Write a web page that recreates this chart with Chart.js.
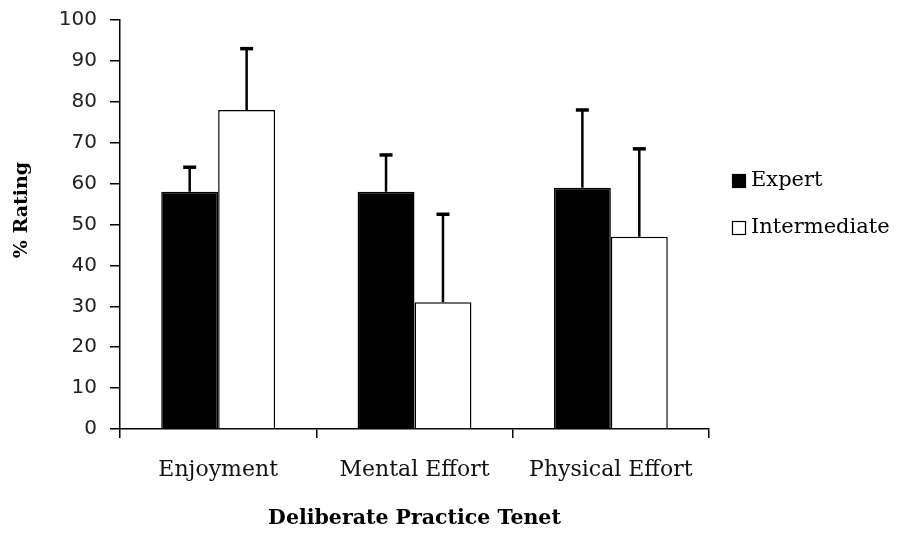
<!DOCTYPE html>
<html>
<head>
<meta charset="utf-8">
<script src="https://cdn.jsdelivr.net/npm/chart.js@4"></script>
<style>
  html, body { margin: 0; padding: 0; background: #ffffff; }
  #wrap { width: 898px; height: 538px; }
</style>
</head>
<body>
<div id="wrap"><canvas id="chart" width="898" height="538"></canvas></div>
<script>
// Deliberate practice ratings by tenet, with one-sided (upper) error bars
const categories = ['Enjoyment', 'Mental Effort', 'Physical Effort'];
const expertValues = [58, 58, 59];
const expertErrors = [6, 9, 19];
const intermediateValues = [78, 31, 47];
const intermediateErrors = [15, 21.5, 21.5];
const yTicks = [0, 10, 20, 30, 40, 50, 60, 70, 80, 90, 100];

const serif = '"DejaVu Serif", "Liberation Serif", serif';

// Upper error bars drawn from each bar's top through the y scale
const errorBars = {
  id: 'errorBars',
  afterDatasetsDraw(chart) {
    const ctx = chart.ctx;
    const y = chart.scales.y;
    chart.data.datasets.forEach((ds, di) => {
      const meta = chart.getDatasetMeta(di);
      meta.data.forEach((bar, i) => {
        const top = y.getPixelForValue(ds.data[i] + ds.errors[i]);
        ctx.save();
        ctx.strokeStyle = '#000';
        ctx.lineWidth = 2.5;
        ctx.beginPath();
        ctx.moveTo(bar.x, bar.y);
        ctx.lineTo(bar.x, top);
        ctx.stroke();
        ctx.lineWidth = 3.5;
        ctx.beginPath();
        ctx.moveTo(bar.x - 6.5, top);
        ctx.lineTo(bar.x + 6.5, top);
        ctx.stroke();
        ctx.restore();
      });
    });
  }
};

// Side legend and rotated y-axis title
const decorations = {
  id: 'decorations',
  afterDraw(chart) {
    const ctx = chart.ctx;
    ctx.save();
    // y title
    ctx.translate(22, 210);
    ctx.rotate(-Math.PI / 2);
    ctx.font = 'bold 19px ' + serif;
    ctx.fillStyle = '#000';
    ctx.textAlign = 'center';
    ctx.textBaseline = 'middle';
    ctx.fillText('% Rating', 0, 0);
    ctx.restore();

    // legend
    const x0 = 732;
    const rows = [181, 228];
    ctx.save();
    ctx.font = '21px ' + serif;
    ctx.textBaseline = 'middle';
    ctx.textAlign = 'left';
    chart.data.datasets.forEach((ds, i) => {
      const cy = rows[i];
      ctx.fillStyle = ds.backgroundColor;
      ctx.fillRect(x0, cy - 7, 14, 14);
      ctx.strokeStyle = '#000';
      ctx.lineWidth = 1.2;
      ctx.strokeRect(x0 + 0.5, cy - 6.5, 13, 13);
      ctx.fillStyle = '#000';
      ctx.fillText(ds.label, x0 + 19, cy);
    });
    ctx.restore();
  }
};

new Chart(document.getElementById('chart'), {
  type: 'bar',
  data: {
    labels: categories,
    datasets: [
      {
        label: 'Expert',
        data: expertValues,
        errors: expertErrors,
        backgroundColor: '#000000',
        borderColor: '#000000',
        borderWidth: 1.5
      },
      {
        label: 'Intermediate',
        data: intermediateValues,
        errors: intermediateErrors,
        backgroundColor: '#ffffff',
        borderColor: '#000000',
        borderWidth: 1.5
      }
    ]
  },
  options: {
    responsive: false,
    animation: false,
    devicePixelRatio: 1,
    layout: { padding: { top: 20, right: 189, left: 0, bottom: 0 } },
    datasets: {
      bar: { categoryPercentage: 0.58, barPercentage: 1.0 }
    },
    plugins: {
      legend: { display: false },
      tooltip: { enabled: false }
    },
    scales: {
      x: {
        afterFit(scale) { scale.height = 109; },
        grid: {
          offset: true,
          drawOnChartArea: false,
          drawTicks: true,
          tickLength: 9,
          color: '#000',
          lineWidth: 1.5
        },
        border: { display: true, color: '#000', width: 1.5 },
        ticks: {
          color: '#111',
          padding: 19,
          font: { family: serif, size: 22 }
        },
        title: {
          display: true,
          text: 'Deliberate Practice Tenet',
          color: '#000',
          font: { family: serif, size: 20.5, weight: 'bold' },
          padding: { top: 0, bottom: 7 }
        }
      },
      y: {
        min: 0,
        max: 100,
        afterFit(scale) {
          scale.width = 120;
          scale.paddingTop = 0;
          scale.paddingBottom = 0;
        },
        afterBuildTicks(scale) { scale.ticks = yTicks.map(v => ({ value: v })); },
        grid: {
          drawOnChartArea: false,
          drawTicks: true,
          tickLength: 10,
          color: '#000',
          lineWidth: 1.5
        },
        border: { display: true, color: '#000', width: 1.5 },
        ticks: {
          color: '#222',
          padding: 13,
          font: { family: '"DejaVu Sans", Verdana, sans-serif', size: 20 }
        }
      }
    }
  },
  plugins: [errorBars, decorations]
});
</script>
</body>
</html>
